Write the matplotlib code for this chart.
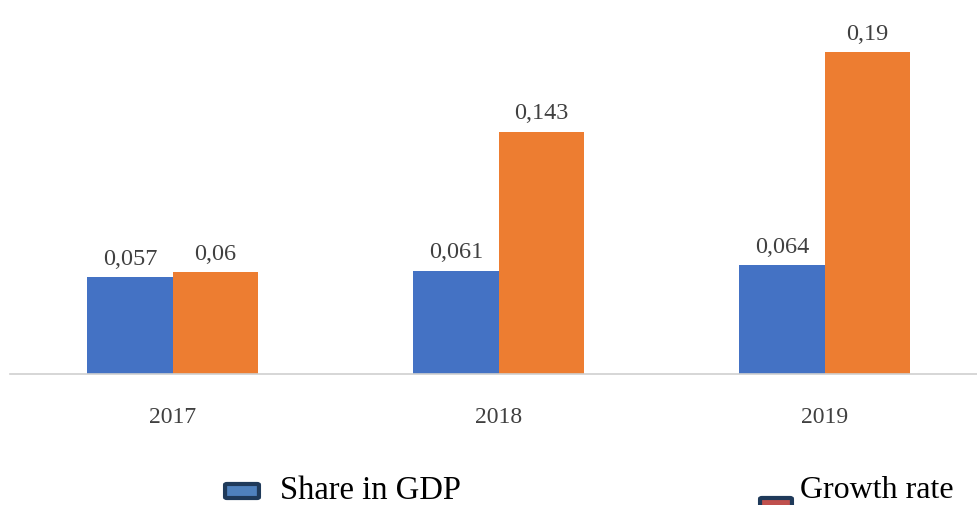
import matplotlib.pyplot as plt
import numpy as np
from matplotlib.patches import FancyBboxPatch

years = ['2017', '2018', '2019']
share_gdp = [0.057, 0.061, 0.064]
growth_rate = [0.06, 0.143, 0.19]
share_labels = ['0,057', '0,061', '0,064']
growth_labels = ['0,06', '0,143', '0,19']

plt.rcParams['font.family'] = ['Liberation Serif', 'DejaVu Serif']

fig = plt.figure(figsize=(9.78, 5.06), dpi=100, facecolor='white')
ax = fig.add_axes([0.010, 0.259, 0.99, 0.741])

x = np.arange(len(years))
w = 0.262
b1 = ax.bar(x - w / 2, share_gdp, w, color='#4472C4')
b2 = ax.bar(x + w / 2, growth_rate, w, color='#ED7D31')

for bars, labels in ((b1, share_labels), (b2, growth_labels)):
    for bar, lab in zip(bars, labels):
        ax.annotate(lab, (bar.get_x() + bar.get_width() / 2, bar.get_height()),
                    xytext=(0, 6), textcoords='offset points',
                    ha='center', va='bottom', fontsize=17.5, color='#404040')

ax.set_xlim(-0.5, 2.47)
ax.set_ylim(0, 0.2212)
ax.set_yticks([])
ax.set_xticks(x)
ax.set_xticklabels(years, fontsize=17, color='#404040')
ax.tick_params(axis='x', length=0, pad=23)
for s in ['top', 'right', 'left']:
    ax.spines[s].set_visible(False)
ax.spines['bottom'].set_color('#d0d0d0')
ax.spines['bottom'].set_linewidth(1.2)

# legend
fig.patches.append(FancyBboxPatch((227 / 978, 1 - 498 / 506), 30 / 978, 12 / 506,
                                  boxstyle='round,pad=0.002', transform=fig.transFigure,
                                  facecolor='#4F81BD', edgecolor='#1F3A5A', linewidth=3))
fig.text(280 / 978, 1 - 499 / 506, 'Share in GDP', fontsize=23.5, color='black',
         ha='left', va='baseline')
fig.patches.append(FancyBboxPatch((762 / 978, 1 - 512 / 506), 28 / 978, 12 / 506,
                                  boxstyle='round,pad=0.002', transform=fig.transFigure,
                                  facecolor='#C0504D', edgecolor='#1F3A5A', linewidth=3))
fig.text(800 / 978, 1 - 498 / 506, 'Growth rate', fontsize=23, color='black',
         ha='left', va='baseline')

fig.savefig('out.png', dpi=100, facecolor='white')
